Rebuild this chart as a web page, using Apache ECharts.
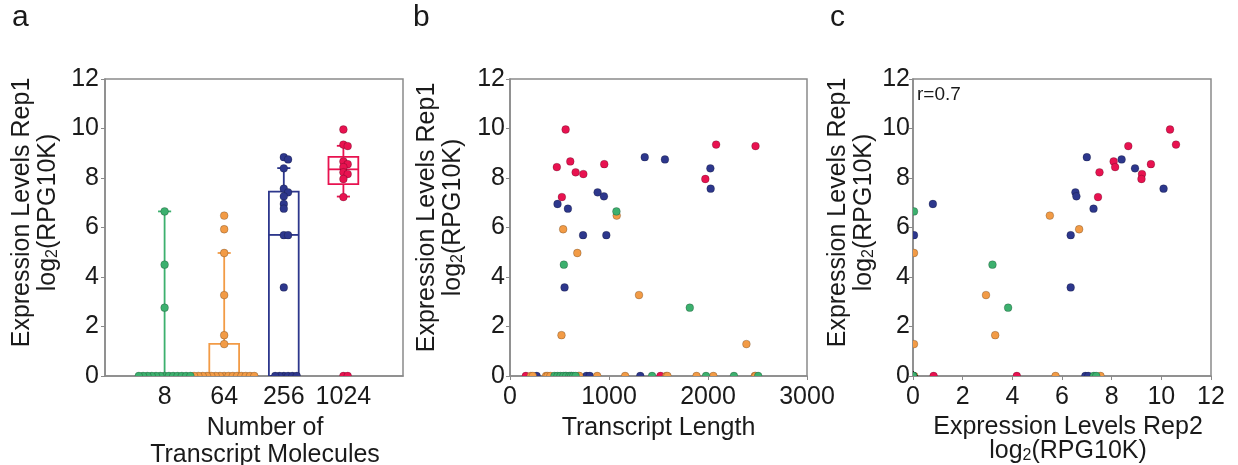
<!DOCTYPE html>
<html>
<head>
<meta charset="utf-8">
<script src="https://cdn.jsdelivr.net/npm/echarts@6/dist/echarts.min.js"></script>
<style>
  html, body { margin: 0; background: #fff; }
  #main { width: 1238px; height: 465px; }
</style>
</head>
<body>
<div id="main"></div>
<script>
  // groups = number of transcript molecules
  var groupNames = ['8', '64', '256', '1024'];
  var groupColors = ['#3cb06e', '#f29b46', '#2d378c', '#e81250'];

  // one entry per transcript: expression rep1, transcript length, expression rep2
  var greenRep1 = [6.65, 4.50, 2.76, 0, 0, 0, 0, 0, 0, 0, 0, 0, 0, 0, 0, 0];
  var greenLength = [1075, 544, 1816, 449, 480, 510, 540, 568, 600, 619, 640, 663, 1435, 1980, 2262, 2507];
  var greenRep2 = [0.04, 3.20, 3.83, 0, 0, 0, 0, 0, 0, 0, 0, 0, 0, 0, 7.28, 7.38];

  var orangeRep1 = [6.48, 5.93, 4.97, 3.27, 1.65, 1.29, 0, 0, 0, 0, 0, 0, 0, 0, 0, 0, 0, 0, 0, 0, 0];
  var orangeLength = [1078, 537, 680, 1303, 520, 2388, 211, 230, 364, 380, 408, 694, 881, 1163, 1578, 1884, 2054, 2473, 2480, 700, 1590];
  var orangeRep2 = [5.51, 6.69, 0.04, 2.94, 3.31, 0.04, 0.05, 5.74, 7.55, 0, 0, 0, 0, 0, 0, 0, 0, 0, 0, 0, 0];

  var blueRep1 = [8.84, 8.75, 8.39, 7.57, 7.42, 7.26, 6.95, 6.76, 5.69, 5.69, 3.58, 0, 0, 0, 0, 0, 0];
  var blueLength = [1361, 1565, 2024, 2027, 885, 949, 480, 585, 738, 973, 551, 269, 772, 806, 1316, 560, 620];
  var blueRep2 = [7.00, 8.40, 8.94, 10.09, 6.54, 6.58, 0.80, 7.27, 6.35, 0.04, 6.35, 6.94, 7.06, 0, 0, 0, 0];

  var redRep1 = [9.96, 9.35, 9.29, 8.67, 8.56, 8.44, 8.23, 8.16, 7.96, 7.23, 0, 0];
  var redLength = [562, 2082, 2480, 609, 952, 473, 663, 741, 1973, 524, 160, 1520];
  var redRep2 = [10.35, 10.59, 8.67, 8.08, 9.58, 8.14, 7.51, 9.22, 9.20, 7.45, 0.83, 4.18];

  // box statistics per group: [low whisker, q1, median, q3, high whisker]
  var boxStats = [
    [0, 0, 0, 0, 6.65],
    [0, 0, 0, 1.3, 4.97],
    [0, 0, 5.7, 7.45, 8.4],
    [7.25, 7.75, 8.35, 8.85, 9.3]
  ];

  var rep1 = [greenRep1, orangeRep1, blueRep1, redRep1];
  var lengths = [greenLength, orangeLength, blueLength, redLength];
  var rep2 = [greenRep2, orangeRep2, blueRep2, redRep2];

  var font = 'Liberation Sans, Arial, sans-serif';
  var ink = '#1a1a1a';
  var frame = '#8a8a8a';

  // simple beeswarm so that dots sharing a value spread sideways (panel a)
  var PX_X = 59.6, PX_Y = 24.75, STEP = 4.3;
  function swarm(values, pos) {
    var placed = [];
    values.forEach(function (v) {
      var k = 0, off = 0;
      while (true) {
        off = (k === 0) ? 0 : (k % 2 === 1 ? 1 : -1) * Math.ceil(k / 2) * STEP;
        var clash = placed.some(function (p) {
          var dx = p[0] - off, dy = (p[1] - v) * PX_Y;
          return Math.sqrt(dx * dx + dy * dy) < STEP - 0.01;
        });
        if (!clash) break;
        k++;
      }
      placed.push([off, v]);
    });
    return placed.map(function (p) { return [pos + p[0] / PX_X, p[1]]; });
  }

  function pairs(xs, ys) {
    return xs.map(function (x, i) { return [x, ys[i]]; });
  }

  var grids = [
    {left: 105, top: 79, width: 298, height: 297},
    {left: 510, top: 79, width: 297, height: 297},
    {left: 913, top: 79, width: 298, height: 297}
  ];
  grids.forEach(function (g) {
    g.show = true;
    g.borderColor = frame;
    g.borderWidth = 1.5;
    g.outerBoundsMode = 'none';
    g.containLabel = false;
  });

  var yName = '{n|Expression Levels Rep1}\n{n|log}{s|2}{n|(RPG10K)}';
  var nameRich = {
    n: {fontSize: 25, fontFamily: font, color: ink, lineHeight: 26},
    s: {fontSize: 16, fontFamily: font, color: ink, lineHeight: 26, verticalAlign: 'bottom'}
  };

  function yAxis(idx, gap, margin, shift) {
    return {
      type: 'value', gridIndex: idx, min: 0, max: 12, interval: 2,
      name: yName, nameLocation: 'middle', nameRotate: 90, nameGap: gap,
      nameTextStyle: {rich: nameRich, padding: [0, 0, 0, shift]},
      axisLine: {show: true, lineStyle: {color: frame, width: 1.5}},
      axisTick: {show: true, length: 4, lineStyle: {color: frame}},
      axisLabel: {fontSize: 25, fontFamily: font, color: ink, margin: margin},
      splitLine: {show: false}
    };
  }

  var xLabelBase = {
    fontSize: 25, fontFamily: font, color: ink, margin: 9,
    formatter: function (v) { return String(v); }
  };

  var series = [];

  // panel a: box plots drawn through the axis scales
  series.push({
    type: 'custom',
    xAxisIndex: 0, yAxisIndex: 0,
    z: 2,
    clip: true,
    data: boxStats.map(function (s, i) { return [i + 1].concat(s); }),
    renderItem: function (params, api) {
      var x = api.value(0);
      var color = groupColors[params.dataIndex];
      var lo = api.coord([x, api.value(1)]);
      var q1 = api.coord([x, api.value(2)]);
      var med = api.coord([x, api.value(3)]);
      var q3 = api.coord([x, api.value(4)]);
      var hi = api.coord([x, api.value(5)]);
      var half = api.size([0.25, 0])[0];
      var cap = api.size([0.11, 0])[0];
      var st = {stroke: color, lineWidth: 1.8, fill: null};
      var cx = lo[0];
      var kids = [];
      if (q1[1] - q3[1] > 0.5) {
        kids.push({type: 'rect', shape: {x: cx - half, y: q3[1], width: half * 2, height: q1[1] - q3[1]}, style: st});
      }
      kids.push({type: 'line', shape: {x1: cx - half, y1: med[1], x2: cx + half, y2: med[1]}, style: st});
      if (hi[1] < q3[1]) {
        kids.push({type: 'line', shape: {x1: cx, y1: q3[1], x2: cx, y2: hi[1]}, style: st});
        kids.push({type: 'line', shape: {x1: cx - cap, y1: hi[1], x2: cx + cap, y2: hi[1]}, style: st});
      }
      if (lo[1] > q1[1]) {
        kids.push({type: 'line', shape: {x1: cx, y1: q1[1], x2: cx, y2: lo[1]}, style: st});
        kids.push({type: 'line', shape: {x1: cx - cap, y1: lo[1], x2: cx + cap, y2: lo[1]}, style: st});
      }
      return {type: 'group', children: kids};
    }
  });

  // dots as clipped circles, so points sitting on an axis show as half discs
  function dotSeries(axis, color, data) {
    return {
      type: 'custom', xAxisIndex: axis, yAxisIndex: axis, z: 3, clip: true,
      data: data,
      renderItem: function (params, api) {
        var p = api.coord([api.value(0), api.value(1)]);
        return {
          type: 'circle',
          shape: {cx: p[0], cy: p[1], r: 3.9},
          style: {fill: color, stroke: 'rgba(0,0,0,0.35)', lineWidth: 0.6}
        };
      }
    };
  }

  var drawOrder = [2, 3, 1, 0];
  drawOrder.forEach(function (g) {
    series.push(dotSeries(0, groupColors[g], swarm(rep1[g], g + 1)));
    series.push(dotSeries(1, groupColors[g], pairs(lengths[g], rep1[g])));
    series.push(dotSeries(2, groupColors[g], pairs(rep2[g], rep1[g])));
  });

  var option = {
    backgroundColor: '#fff',
    animation: false,
    grid: grids,
    xAxis: [
      {
        type: 'value', gridIndex: 0, min: 0, max: 5, interval: 1,
        name: 'Number of\nTranscript Molecules', nameLocation: 'middle', nameGap: 35,
        nameTextStyle: {fontSize: 25, fontFamily: font, color: ink, lineHeight: 27, padding: [0, 0, 0, 22]},
        axisLine: {show: true, lineStyle: {color: frame, width: 1.5}},
        axisTick: {show: false},
        axisLabel: Object.assign({}, xLabelBase, {
          formatter: function (v) { return groupNames[v - 1] || ''; }
        }),
        splitLine: {show: false}
      },
      {
        type: 'value', gridIndex: 1, min: 0, max: 3000, interval: 1000,
        name: 'Transcript Length', nameLocation: 'middle', nameGap: 38,
        nameTextStyle: {fontSize: 25, fontFamily: font, color: ink, lineHeight: 27},
        axisLine: {show: true, lineStyle: {color: frame, width: 1.5}},
        axisTick: {show: true, length: 4, lineStyle: {color: frame}},
        axisLabel: xLabelBase,
        splitLine: {show: false}
      },
      {
        type: 'value', gridIndex: 2, min: 0, max: 12, interval: 2,
        name: '{n|Expression Levels Rep2}\n{n|log}{s|2}{n|(RPG10K)}', nameLocation: 'middle', nameGap: 21,
        nameTextStyle: {
          rich: {
            n: {fontSize: 25, fontFamily: font, color: ink, lineHeight: 24},
            s: {fontSize: 16, fontFamily: font, color: ink, lineHeight: 24, verticalAlign: 'bottom'}
          },
          padding: [0, 0, 0, 12]
        },
        axisLine: {show: true, lineStyle: {color: frame, width: 1.5}},
        axisTick: {show: true, length: 4, lineStyle: {color: frame}},
        axisLabel: xLabelBase,
        splitLine: {show: false}
      }
    ],
    yAxis: [
      yAxis(0, 44, 6, 30),
      yAxis(1, 44, 5, 20),
      yAxis(2, 36, 3, 30)
    ],
    graphic: [
      {type: 'text', left: 12, top: 3, style: {text: 'a', fontSize: 30, fontFamily: font, fill: ink}},
      {type: 'text', left: 413, top: 3, style: {text: 'b', fontSize: 30, fontFamily: font, fill: ink}},
      {type: 'text', left: 830, top: 3, style: {text: 'c', fontSize: 30, fontFamily: font, fill: ink}},
      {type: 'text', left: 917, top: 85, style: {text: 'r=0.7', fontSize: 19, fontFamily: font, fill: ink}}
    ],
    series: series
  };

  var chart = echarts.init(document.getElementById('main'));
  chart.setOption(option);
</script>
</body>
</html>
